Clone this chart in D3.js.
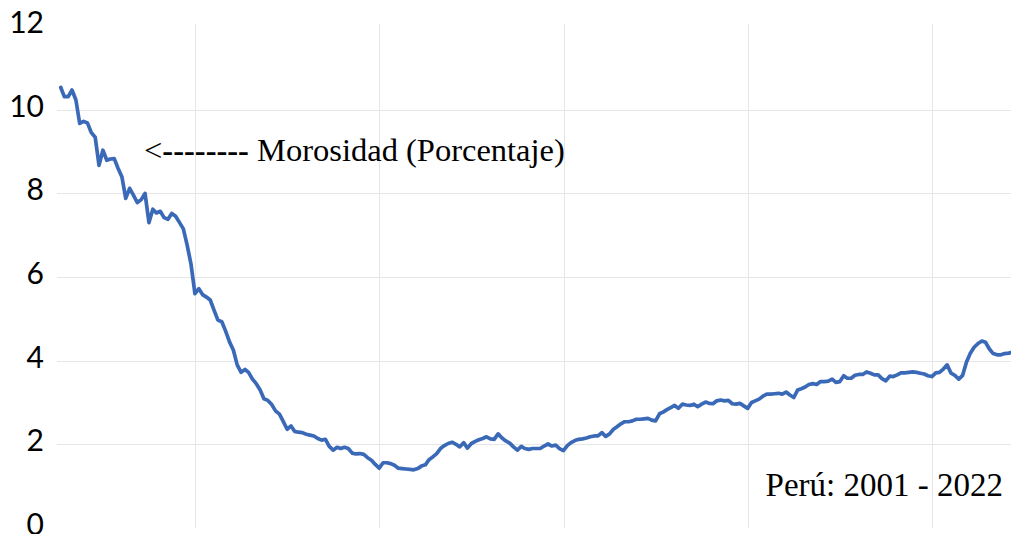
<!DOCTYPE html>
<html>
<head>
<meta charset="utf-8">
<script src="https://cdn.jsdelivr.net/npm/d3@7"></script>
<style>
    html, body { margin: 0; padding: 0; background: #fff; overflow: hidden; }
    svg { display: block; }
</style>
</head>
<body>
<div id="chart"></div>
<script>

// monthly morosidad (%), from Jan 2001, one value per month
var morosidad = [
    10.53, 10.31, 10.31, 10.47, 10.23, 9.67, 9.72, 9.68, 9.45, 9.34, 8.67, 9.03,
    8.79, 8.82, 8.83, 8.60, 8.39, 7.88, 8.12, 7.95, 7.78, 7.85, 8.00, 7.30,
    7.62, 7.53, 7.57, 7.42, 7.38, 7.52, 7.45, 7.30, 7.15, 6.75, 6.30, 5.60,
    5.72, 5.58, 5.52, 5.45, 5.20, 4.97, 4.93, 4.70, 4.45, 4.25, 3.90, 3.72,
    3.79, 3.72, 3.56, 3.45, 3.30, 3.09, 3.05, 2.95, 2.80, 2.72, 2.55, 2.36,
    2.44, 2.31, 2.29, 2.28, 2.24, 2.22, 2.20, 2.14, 2.10, 2.12, 1.95, 1.86,
    1.93, 1.90, 1.93, 1.90, 1.79, 1.77, 1.78, 1.76, 1.68, 1.62, 1.52, 1.43,
    1.56, 1.56, 1.54, 1.50, 1.43, 1.42, 1.41, 1.40, 1.39, 1.42, 1.48, 1.51,
    1.64, 1.70, 1.78, 1.90, 1.97, 2.02, 2.05, 2.00, 1.94, 2.04, 1.91, 2.02,
    2.07, 2.11, 2.14, 2.18, 2.13, 2.12, 2.25, 2.15, 2.08, 2.03, 1.94, 1.86,
    1.95, 1.90, 1.88, 1.90, 1.90, 1.90, 1.96, 2.01, 1.96, 1.98, 1.90, 1.85,
    1.97, 2.04, 2.09, 2.12, 2.13, 2.15, 2.18, 2.20, 2.20, 2.28, 2.19, 2.25,
    2.36, 2.42, 2.49, 2.54, 2.54, 2.56, 2.60, 2.60, 2.61, 2.62, 2.58, 2.56,
    2.73, 2.77, 2.83, 2.88, 2.93, 2.86, 2.96, 2.94, 2.93, 2.96, 2.90, 2.96,
    3.01, 2.98, 2.97, 3.04, 3.06, 3.04, 3.05, 2.97, 2.96, 2.98, 2.92, 2.86,
    3.00, 3.04, 3.08, 3.15, 3.20, 3.20, 3.21, 3.22, 3.20, 3.25, 3.18, 3.12,
    3.30, 3.33, 3.37, 3.43, 3.45, 3.43, 3.50, 3.50, 3.51, 3.56, 3.48, 3.50,
    3.64, 3.58, 3.58, 3.65, 3.67, 3.67, 3.73, 3.70, 3.66, 3.66, 3.57, 3.52,
    3.63, 3.62, 3.66, 3.71, 3.71, 3.72, 3.73, 3.72, 3.70, 3.68, 3.64, 3.62,
    3.71, 3.72, 3.80, 3.90, 3.70, 3.65, 3.56, 3.65, 3.96, 4.18, 4.32, 4.41,
    4.47, 4.44, 4.28, 4.17, 4.14, 4.14, 4.17, 4.18, 4.20
];

var startYear = 2001;
var yTicks = [0, 2, 4, 6, 8, 10, 12];
var gridYears = [2004, 2008, 2012, 2016, 2020];

var arrowText = "<";
var dashText = "--------";
var seriesLabel = " Morosidad (Porcentaje)";
var periodLabel = "Perú: 2001 - 2022";

// month-end dates for each value
var data = morosidad.map(function (v, i) {
    return {date: new Date(startYear, i + 1, 0), value: v};
});

var width = 1011, height = 534;
var plot = {left: 57, right: 1011, top: 26, bottom: 528};

var svg = d3.select("#chart").append("svg")
    .attr("width", width)
    .attr("height", height);

// x: 2001-01-01 sits at the plot's left edge, ~0.126 px per day
var xScale = d3.scaleTime()
    .domain([new Date(2001, 0, 1), new Date(2022, 0, 1)])
    .range([plot.left, plot.left + 7670 * 0.1261]);
var yScale = d3.scaleLinear().domain([0, 12]).range([plot.bottom, plot.top]);

svg.append("defs").append("clipPath")
    .attr("id", "plotClip")
    .append("rect")
    .attr("x", plot.left)
    .attr("y", 0)
    .attr("width", plot.right - plot.left)
    .attr("height", height);

// horizontal gridlines
svg.append("g")
    .attr("class", "yGrid")
    .selectAll("line")
    .data(yTicks.filter(function (d) { return d > 0 && d < 12; }))
    .enter()
    .append("line")
    .attr("x1", plot.left)
    .attr("x2", plot.right)
    .attr("y1", function (d) { return Math.round(yScale(d)) + 0.5; })
    .attr("y2", function (d) { return Math.round(yScale(d)) + 0.5; })
    .style("stroke", "#e6e6e6")
    .style("stroke-width", 1);

// vertical gridlines
svg.append("g")
    .attr("class", "xGrid")
    .selectAll("line")
    .data(gridYears)
    .enter()
    .append("line")
    .attr("x1", function (d) { return Math.round(xScale(new Date(d, 0, 1))) + 0.5; })
    .attr("x2", function (d) { return Math.round(xScale(new Date(d, 0, 1))) + 0.5; })
    .attr("y1", plot.top - 2)
    .attr("y2", plot.bottom)
    .style("stroke", "#e6e6e6")
    .style("stroke-width", 1);

// y axis labels only, no domain line or ticks
var yAxisG = svg.append("g")
    .attr("class", "yAxisG")
    .attr("transform", "translate(" + 47 + "," + (-3) + ")")
    .call(d3.axisLeft(yScale).tickValues(yTicks).tickSize(0).tickPadding(3));
yAxisG.select(".domain").remove();
yAxisG.selectAll("text")
    .style("font-family", "Lato, 'Open Sans', sans-serif")
    .style("font-size", "30px")
    .style("fill", "#000");

// the series
var line = d3.line()
    .x(function (d) { return xScale(d.date); })
    .y(function (d) { return yScale(d.value); });

svg.append("path")
    .datum(data)
    .attr("clip-path", "url(#plotClip)")
    .attr("d", line)
    .style("fill", "none")
    .style("stroke", "#3a69b8")
    .style("stroke-width", 3.7)
    .style("stroke-linejoin", "round")
    .style("stroke-linecap", "round");

// annotations
var note = svg.append("text")
    .attr("x", 144)
    .attr("y", 161)
    .style("font-family", "'Liberation Serif', 'Times New Roman', serif")
    .style("font-size", "32.5px")
    .style("fill", "#000");
note.append("tspan").text(arrowText);
note.append("tspan").style("font-weight", "bold").text(dashText);
note.append("tspan").text(seriesLabel);

svg.append("text")
    .attr("x", 1003)
    .attr("y", 496)
    .attr("text-anchor", "end")
    .style("font-family", "'Liberation Serif', 'Times New Roman', serif")
    .style("font-size", "33px")
    .style("fill", "#000")
    .text(periodLabel);

</script>
</body>
</html>
